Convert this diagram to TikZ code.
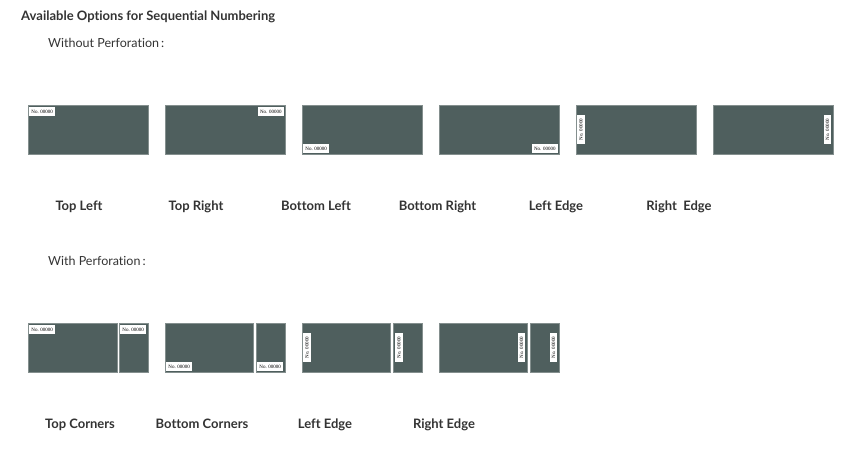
\documentclass[tikz,border=0pt]{standalone}
\usepackage{fontspec}
\setmainfont[Ligatures=NoCommon]{Lato}
\newfontfamily\numfont{Liberation Serif}
\definecolor{slab}{HTML}{4F5F5E}
\definecolor{txt}{HTML}{333333}
\begin{document}
\begin{tikzpicture}[x=1pt,y=-1pt,
  card/.style={fill=slab,draw=slab!70!white,line width=0.5pt,anchor=north west,inner sep=0pt,minimum height=49pt},
  numtag/.style={fill=white,inner sep=0.6pt,font=\numfont\fontsize{5}{5}\selectfont,text=black,minimum width=26pt,minimum height=8.5pt},
  vtag/.style={numtag,rotate=90,minimum width=29pt,minimum height=7.5pt},
  lbl/.style={font=\bfseries\fontsize{13}{15}\selectfont,text=txt,anchor=base,inner sep=0pt},
  head/.style={font=\fontsize{12.5}{14}\selectfont,text=txt,anchor=base west,inner sep=0pt}]
\useasboundingbox (0,0) rectangle (862,450);
\node[head,font=\bfseries\fontsize{13}{15}\selectfont] (title) at (21,20) {Available Options for Sequential Numbering};
\node[head] (wo) at (48,47) {Without Perforation\,:};
\node[head] (wp) at (48,265) {With Perforation\,:};
% Row 1
\node[card,minimum width=120pt] (a1) at (28,105) {};
\node[card,minimum width=120pt] (a2) at (165,105) {};
\node[card,minimum width=120pt] (a3) at (302,105) {};
\node[card,minimum width=120pt] (a4) at (439,105) {};
\node[card,minimum width=120pt] (a5) at (576,105) {};
\node[card,minimum width=120pt] (a6) at (713,105) {};
\node[numtag,anchor=north west] (t1) at ([shift={(1,2)}]a1.north west) {No. 00000};
\node[numtag,anchor=north east] (t2) at ([shift={(-1.5,2)}]a2.north east) {No. 00000};
\node[numtag,anchor=south west] (t3) at ([shift={(1,-1.5)}]a3.south west) {No. 00000};
\node[numtag,anchor=south east] (t4) at ([shift={(-1.5,-1.5)}]a4.south east) {No. 00000};
\node[vtag] (t5) at ([shift={(5,0)}]a5.west) {No. 00000};
\node[vtag] (t6) at ([shift={(-6,0)}]a6.east) {No. 00000};
\node[lbl] (l1) at (79,210) {Top Left};
\node[lbl] (l2) at (196,210) {Top Right};
\node[lbl] (l3) at (316,210) {Bottom Left};
\node[lbl] (l4) at (437.5,210) {Bottom Right};
\node[lbl] (l5) at (556,210) {Left Edge};
\node[lbl] (l6) at (679,210) {Right\ \ Edge};
% Row 2
\node[card,minimum width=89pt] (b1) at (28,323) {};
\node[card,minimum width=29pt] (b1r) at (119,323) {};
\node[card,minimum width=88pt] (b2) at (165,323) {};
\node[card,minimum width=29pt] (b2r) at (256,323) {};
\node[card,minimum width=88pt] (b3) at (302,323) {};
\node[card,minimum width=29pt] (b3r) at (393,323) {};
\node[card,minimum width=88pt] (b4) at (439,323) {};
\node[card,minimum width=29pt] (b4r) at (530,323) {};
\node[numtag,anchor=north west] (s1) at ([shift={(1,2)}]b1.north west) {No. 00000};
\node[numtag,anchor=north west] (s1r) at ([shift={(1,2)}]b1r.north west) {No. 00000};
\node[numtag,anchor=south west] (s2) at ([shift={(1,-1.5)}]b2.south west) {No. 00000};
\node[numtag,anchor=south west] (s2r) at ([shift={(1,-1.5)}]b2r.south west) {No. 00000};
\node[vtag] (s3) at ([shift={(5,0)}]b3.west) {No. 00000};
\node[vtag] (s3r) at ([shift={(6,0)}]b3r.west) {No. 00000};
\node[vtag] (s4) at ([shift={(-6,0)}]b4.east) {No. 00000};
\node[vtag] (s4r) at ([shift={(-6,0)}]b4r.east) {No. 00000};
\node[lbl] (m1) at (80,428) {Top Corners};
\node[lbl] (m2) at (202,428) {Bottom Corners};
\node[lbl] (m3) at (325,428) {Left Edge};
\node[lbl] (m4) at (444,428) {Right Edge};
\end{tikzpicture}
\end{document}
